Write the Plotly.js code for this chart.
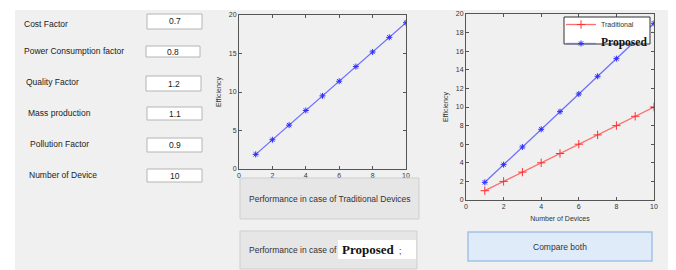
<!DOCTYPE html>
<html>
<head>
<meta charset="utf-8">
<script src="https://cdn.plot.ly/plotly-3.0.1.min.js"></script>
<style>
html,body{margin:0;padding:0;background:#fff;}
#chart{width:676px;height:270px;}
</style>
</head>
<body>
<div id="chart"></div>
<script>
// ---- data ----
var devices = [1, 2, 3, 4, 5, 6, 7, 8, 9, 10];
var traditional = [1, 2, 3, 4, 5, 6, 7, 8, 9, 10];
var proposed = [1.9, 3.8, 5.7, 7.6, 9.5, 11.4, 13.3, 15.2, 17.1, 19];
var fieldLabels = ["Cost Factor", "Power Consumption factor", "Quality Factor", "Mass production", "Pollution Factor", "Number of Device"];
var fieldValues = ["0.7", "0.8", "1.2", "1.1", "0.9", "10"];
var xTicks1 = [0, 2, 4, 6, 8, 10];
var yTicks1 = [0, 5, 10, 15, 20];
var xTicks2 = [0, 2, 4, 6, 8, 10];
var yTicks2 = [0, 2, 4, 6, 8, 10, 12, 14, 16, 18, 20];
var buttonLabels = ["Performance in case of Traditional Devices", "Performance in case of", "Proposed", "Compare both"];

// ---- layout helpers ----
var W = 676, H = 270;
function px(x){ return x / W; }
function py(y){ return 1 - y / H; }

var sans = "Liberation Sans, Arial, sans-serif";
var serif = "Liberation Serif, Times New Roman, serif";

// field geometry
var fieldGeom = [
  {lx: 22, ly: 24, t: 14, b: 29, l: 147, r: 202},
  {lx: 22, ly: 51, t: 46, b: 57, l: 146, r: 200},
  {lx: 24, ly: 82, t: 76, b: 91, l: 146, r: 201},
  {lx: 26, ly: 113, t: 107, b: 120, l: 147, r: 202},
  {lx: 28, ly: 144, t: 138, b: 152, l: 147, r: 202},
  {lx: 27, ly: 175, t: 169, b: 182, l: 147, r: 202}
];

var shapes = [];
var annotations = [];

// grey panel
shapes.push({type: "rect", xref: "paper", yref: "paper", layer: "below",
  x0: px(15), x1: px(668), y0: py(270), y1: py(10),
  fillcolor: "#f0f0f0", line: {width: 0}});

fieldLabels.forEach(function(lbl, i){
  var g = fieldGeom[i];
  shapes.push({type: "rect", xref: "paper", yref: "paper", layer: "below",
    x0: px(g.l), x1: px(g.r), y0: py(g.b), y1: py(g.t),
    fillcolor: "#ffffff", line: {color: "#b4b4b4", width: 1}});
  annotations.push({xref: "paper", yref: "paper", x: px(g.lx), y: py(g.ly),
    xanchor: "left", yanchor: "middle", showarrow: false, text: lbl,
    font: {family: sans, size: 8.5, color: "#222"}});
  annotations.push({xref: "paper", yref: "paper", x: px((g.l + g.r) / 2), y: py((g.t + g.b) / 2),
    xanchor: "center", yanchor: "middle", showarrow: false, text: fieldValues[i],
    font: {family: sans, size: 8.5, color: "#222"}});
});

// button 1
shapes.push({type: "rect", xref: "paper", yref: "paper", layer: "above",
  x0: px(240), x1: px(419), y0: py(219), y1: py(178),
  fillcolor: "#e6e6e6", line: {color: "#cfcfcf", width: 1}});
annotations.push({xref: "paper", yref: "paper", x: px(330), y: py(199),
  xanchor: "center", yanchor: "middle", showarrow: false, text: buttonLabels[0],
  font: {family: sans, size: 8.5, color: "#333"}});

// button 2
shapes.push({type: "rect", xref: "paper", yref: "paper", layer: "above",
  x0: px(240), x1: px(417), y0: py(269), y1: py(231),
  fillcolor: "#e6e6e6", line: {color: "#cfcfcf", width: 1}});
shapes.push({type: "rect", xref: "paper", yref: "paper", layer: "above",
  x0: px(338), x1: px(416), y0: py(259), y1: py(240),
  fillcolor: "#ffffff", line: {width: 0}});
annotations.push({xref: "paper", yref: "paper", x: px(247), y: py(250),
  xanchor: "left", yanchor: "middle", showarrow: false, text: buttonLabels[1],
  font: {family: sans, size: 8.5, color: "#333"}});
annotations.push({xref: "paper", yref: "paper", x: px(340), y: py(249),
  xanchor: "left", yanchor: "middle", showarrow: false, text: "<b>" + buttonLabels[2] + "</b>",
  font: {family: serif, size: 13, color: "#111"}});
annotations.push({xref: "paper", yref: "paper", x: px(397), y: py(251),
  xanchor: "left", yanchor: "middle", showarrow: false, text: ";",
  font: {family: sans, size: 8.5, color: "#333"}});

// compare button
shapes.push({type: "rect", xref: "paper", yref: "paper", layer: "above",
  x0: px(468), x1: px(652), y0: py(261), y1: py(232),
  fillcolor: "#dfebf9", line: {color: "#a3c2e6", width: 1.5}});
annotations.push({xref: "paper", yref: "paper", x: px(560), y: py(246.5),
  xanchor: "center", yanchor: "middle", showarrow: false, text: buttonLabels[3],
  font: {family: sans, size: 8.5, color: "#333"}});

// legend frame (legend itself is drawn by plotly on top)
shapes.push({type: "rect", xref: "paper", yref: "paper", layer: "above",
  x0: px(564), x1: px(650), y0: py(44), y1: py(17),
  fillcolor: "#ffffff", line: {color: "#333", width: 1}});

var axFont = {family: sans, size: 7, color: "#333"};
function axis(domain, tickvals, range, anchor, title, standoff){
  return {
    domain: domain, range: range, tickvals: tickvals, anchor: anchor,
    showline: true, linecolor: "#555", linewidth: 1, mirror: "allticks",
    ticks: "inside", ticklen: 3, tickcolor: "#555",
    showgrid: false, zeroline: false, fixedrange: true,
    tickfont: axFont,
    title: {text: title, font: {family: sans, size: 7, color: "#333"}, standoff: standoff}
  };
}

var blueLine = {color: "#6e6eff", width: 1.3};
var blueMarker = {symbol: "asterisk-open", size: 5, color: "#2d2dff", line: {color: "#2d2dff", width: 1}};
var redLine = {color: "#ff6e6e", width: 1.3};
var redMarker = {symbol: "cross-thin-open", size: 6, color: "#ff3030", line: {color: "#ff3030", width: 1}};

var traces = [
  {x: devices, y: proposed, xaxis: "x", yaxis: "y", type: "scatter", mode: "lines+markers",
   name: "Proposed", showlegend: false, line: blueLine, marker: blueMarker},
  {x: devices, y: traditional, xaxis: "x2", yaxis: "y2", type: "scatter", mode: "lines+markers",
   name: "Traditional", line: redLine, marker: redMarker},
  {x: devices, y: proposed, xaxis: "x2", yaxis: "y2", type: "scatter", mode: "lines+markers",
   name: '<span style="font-family:Liberation Serif;font-size:11.5px;font-weight:bold;color:#111">Proposed</span>',
   line: blueLine, marker: blueMarker}
];

var layout = {
  width: W, height: H,
  margin: {l: 0, r: 0, t: 0, b: 0},
  paper_bgcolor: "#ffffff", plot_bgcolor: "#ffffff",
  showlegend: true,
  xaxis: axis([px(239), px(406)], xTicks1, [0, 10], "y", "", 0),
  yaxis: axis([py(169), py(15)], yTicks1, [0, 20], "x", "Efficiency", 6),
  xaxis2: axis([px(466), px(654)], xTicks2, [0, 10], "y2", "Number of Devices", 6),
  yaxis2: axis([py(200), py(14)], yTicks2, [0, 20], "x2", "Efficiency", 6),
  legend: {x: px(561), y: py(10), xanchor: "left", yanchor: "top",
    bgcolor: "rgba(0,0,0,0)", borderwidth: 0,
    font: {family: sans, size: 7, color: "#333"},
    itemwidth: 30, tracegroupgap: 0},
  shapes: shapes,
  annotations: annotations
};

Plotly.newPlot("chart", traces, layout, {displayModeBar: false, staticPlot: true});
</script>
</body>
</html>
